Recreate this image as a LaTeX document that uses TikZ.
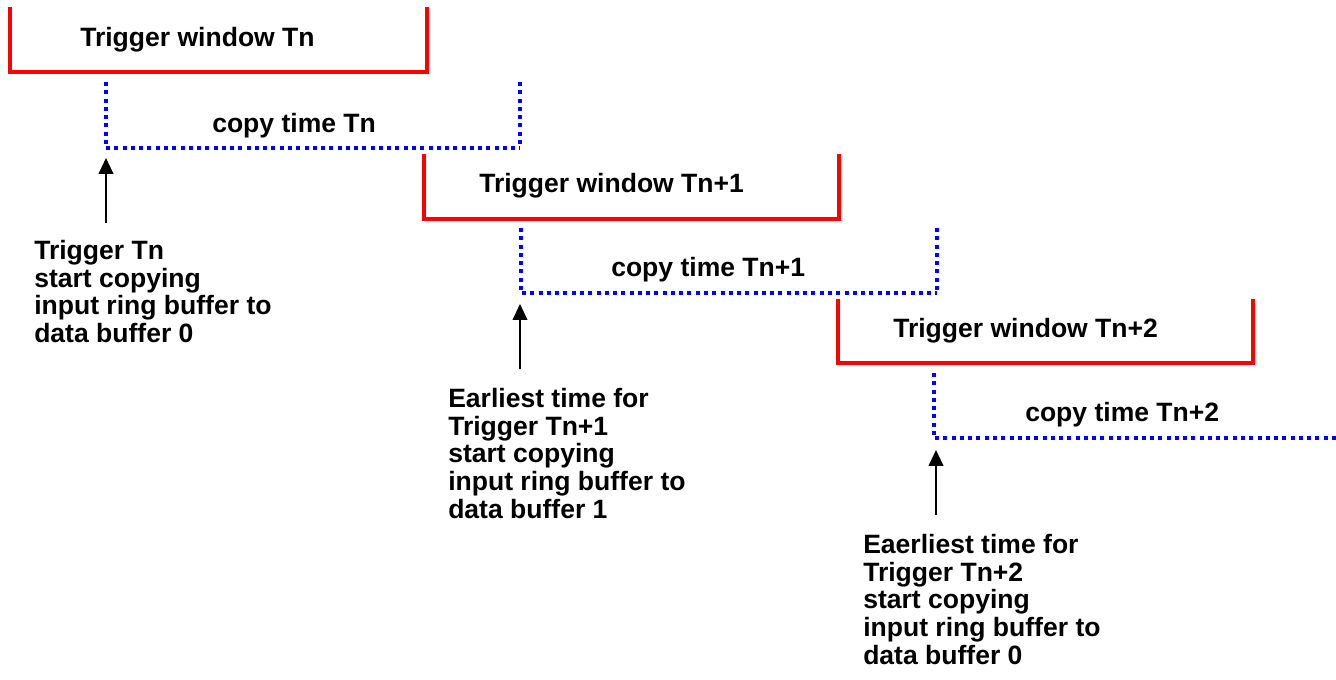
\documentclass[tikz,border=0pt]{standalone}
\usepackage{fontspec}
\setmainfont{Liberation Sans}
\usetikzlibrary{arrows.meta}

\begin{document}
\begin{tikzpicture}[x=0.75pt, y=-0.75pt,
	window/.style={draw=red, line width=3pt},
	copytime/.style={draw=blue, line width=3pt, dash pattern=on 3pt off 3.2pt},
	caption/.style={font=\fontsize{19.9}{20.8}\selectfont\bfseries, inner sep=0pt, anchor=base west},
	note/.style={caption, align=left, anchor=north west},
	trig/.style={draw=black, line width=1.5pt, -{Triangle[length=12pt, width=11pt]}}]
	\useasboundingbox (0,0) rectangle (1336,680);

	% trigger windows
	\draw [window] (10,7) |- (427,72) -- (427,7);
	\node [caption] (win1) at (80,47) {Trigger window Tn};
	\draw [window] (424,154) |- (839,219) -- (839,154);
	\node [caption] (win2) at (479,193) {Trigger window Tn+1};
	\draw [window] (838,299) |- (1253,363) -- (1253,299);
	\node [caption] (win3) at (893,338) {Trigger window Tn+2};

	% copy times
	\draw [copytime] (106,82) |- (520,148);
	\draw [copytime] (520,82) -- (520,148);
	\node [caption] (copy1) at (212,133) {copy time Tn};
	\draw [copytime] (521,228) |- (937,293);
	\draw [copytime] (937,228) -- (937,293);
	\node [caption] (copy2) at (611,277) {copy time Tn+1};
	\draw [copytime] (934,373) |- (1340,438);
	\node [caption] (copy3) at (1025,422) {copy time Tn+2};

	% trigger points
	\coordinate (tip1) at (106,158);
	\coordinate (tail1) at (106,223);
	\draw [trig] (tail1) -- (tip1);
	\node [note] (start1) at (34,240) {Trigger Tn\\start copying\\input ring buffer to\\data buffer 0};

	\coordinate (tip2) at (520,304);
	\coordinate (tail2) at (520,369);
	\draw [trig] (tail2) -- (tip2);
	\node [note] (start2) at (448,388) {Earliest time for\\Trigger Tn+1\\start copying\\input ring buffer to\\data buffer 1};

	\coordinate (tip3) at (936,450);
	\coordinate (tail3) at (936,515);
	\draw [trig] (tail3) -- (tip3);
	\node [note] (start3) at (863,534) {Eaerliest time for\\Trigger Tn+2\\start copying\\input ring buffer to\\data buffer 0};

\end{tikzpicture}
\end{document}
